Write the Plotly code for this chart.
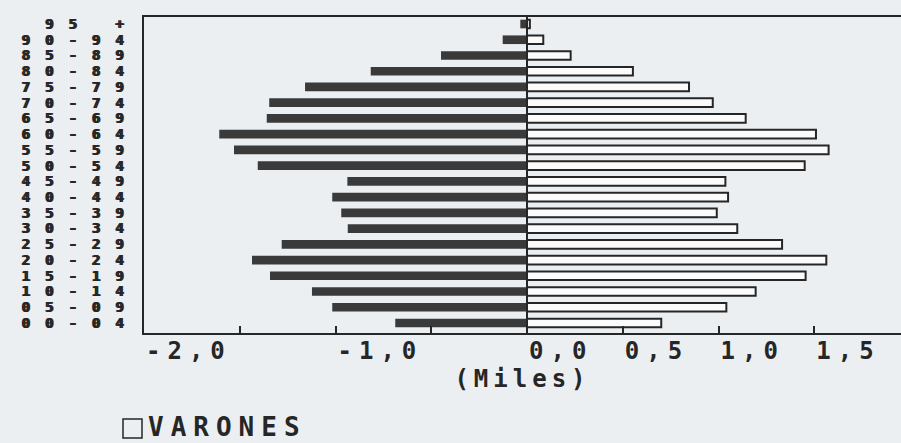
import plotly.graph_objects as go

# Age groups, bottom to top
age_groups = ["00-04", "05-09", "10-14", "15-19", "20-24", "25-29", "30-34",
              "35-39", "40-44", "45-49", "50-54", "55-59", "60-64", "65-69",
              "70-74", "75-79", "80-84", "85-89", "90-94", "95 +"]

# Population in thousands (Miles)
mujeres = [0.688, 1.017, 1.123, 1.342, 1.436, 1.281, 0.936, 0.970, 1.017, 0.938,
           1.406, 1.530, 1.607, 1.359, 1.346, 1.159, 0.816, 0.449, 0.127, 0.035]
varones = [0.701, 1.041, 1.194, 1.455, 1.563, 1.332, 1.098, 0.991, 1.050, 1.036,
           1.450, 1.575, 1.509, 1.142, 0.970, 0.846, 0.553, 0.228, 0.085, 0.015]

x_tick_values = [-2.0, -1.5, -1.0, -0.5, 0.0, 0.5, 1.0, 1.5]
x_tick_labels = ["-2,0", "", "-1,0", "", "0,0", "0,5", "1,0", "1,5"]

INK = "#262626"
PAPER = "#eceff2"
MONO = "DejaVu Sans Mono"


def spaced(text, px):
    """Widen the glyph spacing to mimic the old plotter font."""
    if not text:
        return ""
    return f'<span style="letter-spacing:{px}px">{text}</span>'


fig = go.Figure()

# Left side: solid dark bars
fig.add_trace(go.Bar(
    y=age_groups, x=[-v for v in mujeres], orientation="h",
    name="MUJERES", width=0.55,
    marker=dict(color="#3a3a3a", line=dict(width=0)),
    showlegend=False,
))

# Right side: hollow bars
fig.add_trace(go.Bar(
    y=age_groups, x=varones, orientation="h",
    name="VARONES", width=0.55,
    marker=dict(color="#fbfbfb", line=dict(color=INK, width=2)),
    showlegend=False,
))

fig.update_layout(
    width=901, height=443,
    margin=dict(l=144, r=0, t=17, b=110),
    paper_bgcolor=PAPER, plot_bgcolor=PAPER,
    barmode="overlay",
    font=dict(family=MONO, color=INK),
)

fig.update_xaxes(
    range=[-2.0, 1.953],
    tickvals=x_tick_values,
    ticktext=[spaced(t, 7) for t in x_tick_labels],
    ticklabelposition="outside right",
    ticklabelstandoff=-5,
    ticks="inside", ticklen=7, tickwidth=2, tickcolor=INK,
    tickfont=dict(family=MONO, size=24, color=INK, weight="bold"),
    showgrid=False,
    showline=True, linecolor=INK, linewidth=2, mirror=True,
    zeroline=True, zerolinecolor=INK, zerolinewidth=2,
    title=dict(text=spaced("(Miles)", 5), standoff=0,
               font=dict(family=MONO, size=24, color=INK, weight="bold")),
)

fig.update_yaxes(
    type="category",
    categoryorder="array", categoryarray=age_groups,
    range=[-0.635, 19.445],
    ticks="", showgrid=False,
    showline=True, linecolor=INK, linewidth=2,
    tickvals=age_groups,
    ticktext=[spaced(t, 15) for t in age_groups],
    tickfont=dict(family=MONO, size=14, color=INK, weight="bold",
                  shadow=f"1.5px 0px 0px {INK}"),
    ticklabelstandoff=1,
)

# Legend key: hollow square with the series name
fig.add_shape(type="rect", xref="paper", yref="paper",
              x0=(123 - 144) / 757, x1=(142 - 144) / 757,
              y0=-(419 - 17) / 316 + 1, y1=-(438 - 17) / 316 + 1,
              line=dict(color=INK, width=1.5), fillcolor=PAPER)
fig.add_annotation(xref="paper", yref="paper",
                   x=(146 - 144) / 757, y=-(427 - 17) / 316 + 1,
                   xanchor="left", yanchor="middle", showarrow=False,
                   text=spaced("VARONES", 7),
                   font=dict(family=MONO, size=26, color=INK, weight="bold"))

fig.write_html("out.html")
